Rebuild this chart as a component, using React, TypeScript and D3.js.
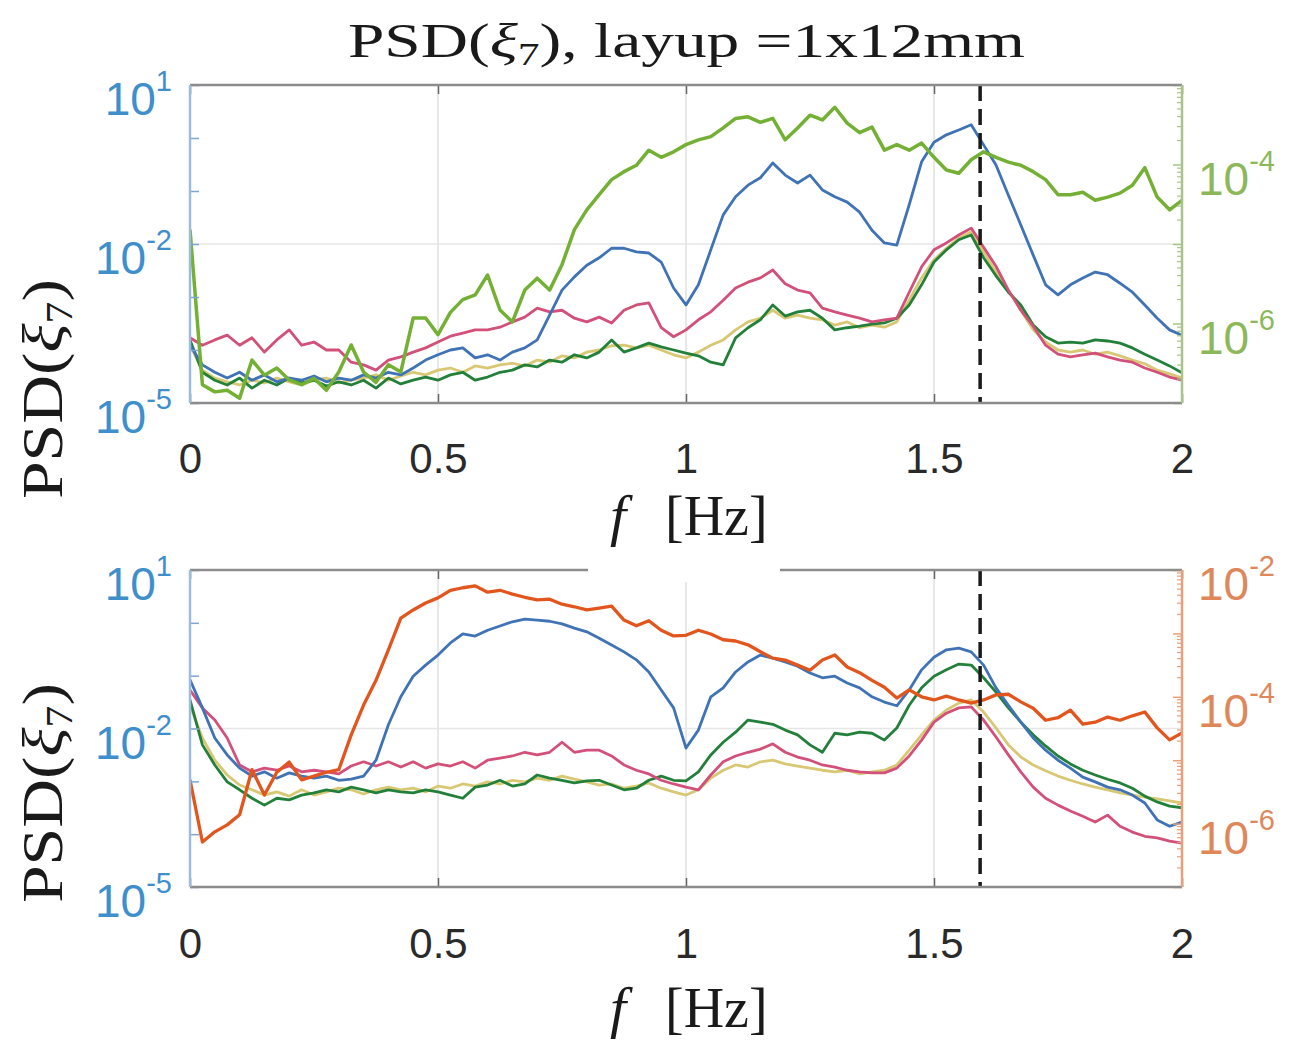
import { useEffect, useRef } from "react";
import * as d3 from "d3";

// frequency grid [Hz]
const freq = d3.range(81).map((i) => +(i * 0.025).toFixed(3));

const xTicks = [0, 0.5, 1, 1.5, 2];
const leftTickExps = [1, -2, -5];
const topRightTickExps = [-4, -6];
const bottomRightTickExps = [-2, -4, -6];
const markerFreq = 1.593;

// log10 of PSD (one value per freq step)
const topBlue = [
  -3.91, -4.28, -4.42, -4.53, -4.42, -4.57, -4.47, -4.6, -4.53, -4.57,
  -4.49, -4.6, -4.53, -4.57, -4.47, -4.53, -4.42, -4.47, -4.34, -4.19,
  -4.09, -4.0, -3.96, -4.15, -4.09, -4.19, -4.04, -3.96, -3.81, -3.34,
  -2.87, -2.62, -2.4, -2.26, -2.08, -2.08, -2.15, -2.17, -2.34, -2.83,
  -3.15, -2.77, -2.11, -1.45, -1.11, -0.89, -0.75, -0.47, -0.7, -0.85,
  -0.7, -0.98, -1.11, -1.21, -1.4, -1.74, -1.98, -2.02, -1.26, -0.45,
  -0.08, 0.06, 0.15, 0.25, -0.13, -0.51, -1.08, -1.64, -2.21, -2.77,
  -2.96, -2.77, -2.64, -2.53, -2.58, -2.74, -2.91, -3.15, -3.4, -3.62,
  -3.72,
];
const topPink = [
  -3.77, -3.91, -3.81, -3.72, -3.91, -3.77, -4.04, -3.81, -3.62, -3.91,
  -3.85, -4.0, -4.0, -4.23, -4.28, -4.38, -4.19, -4.13, -4.04, -3.96,
  -3.85, -3.74, -3.68, -3.62, -3.62, -3.57, -3.47, -3.38, -3.21, -3.28,
  -3.25, -3.4, -3.47, -3.38, -3.49, -3.25, -3.15, -3.11, -3.58, -3.75,
  -3.62, -3.43, -3.28, -3.06, -2.83, -2.72, -2.64, -2.49, -2.75, -2.87,
  -2.92, -3.21, -3.28, -3.34, -3.4, -3.47, -3.43, -3.4, -2.91, -2.43,
  -2.11, -1.98, -1.83, -1.7, -2.06, -2.42, -2.87, -3.25, -3.55, -3.91,
  -4.08, -4.13, -4.09, -4.06, -4.13, -4.19, -4.23, -4.34, -4.42, -4.51,
  -4.57,
];
const topDarkGreen = [
  -3.81, -4.42, -4.57, -4.66, -4.53, -4.72, -4.57, -4.66, -4.53, -4.62,
  -4.57, -4.68, -4.6, -4.66, -4.57, -4.72, -4.53, -4.64, -4.57, -4.51,
  -4.57, -4.47, -4.42, -4.57, -4.51, -4.42, -4.38, -4.28, -4.32, -4.19,
  -4.23, -4.09, -4.15, -4.04, -3.81, -4.04, -3.96, -3.87, -3.94, -4.0,
  -4.06, -4.11, -4.23, -4.28, -3.77, -3.58, -3.43, -3.15, -3.36, -3.28,
  -3.25, -3.4, -3.62, -3.58, -3.55, -3.51, -3.49, -3.4, -3.15, -2.77,
  -2.34, -2.11, -1.92, -1.83, -2.26, -2.6, -2.91, -3.15, -3.53, -3.75,
  -3.87, -3.85, -3.87, -3.81, -3.83, -3.87, -3.96, -4.08, -4.19, -4.3,
  -4.43,
];
const topYellow = [
  -3.91, -4.38, -4.53, -4.6, -4.66, -4.57, -4.62, -4.53, -4.6, -4.66,
  -4.57, -4.53, -4.62, -4.57, -4.53, -4.47, -4.57, -4.49, -4.42, -4.47,
  -4.38, -4.34, -4.42, -4.3, -4.34, -4.28, -4.25, -4.3, -4.19, -4.23,
  -4.11, -4.15, -4.04, -4.0, -3.92, -3.91, -3.96, -3.91, -4.0, -4.09,
  -4.15, -4.04, -3.91, -3.81, -3.62, -3.47, -3.4, -3.25, -3.4, -3.34,
  -3.4, -3.43, -3.53, -3.47, -3.58, -3.53, -3.57, -3.47, -3.06, -2.64,
  -2.3, -2.08, -1.89, -1.77, -2.15, -2.53, -2.87, -3.25, -3.62, -3.85,
  -4.0, -4.04, -4.0, -4.08, -4.04, -4.11, -4.19, -4.26, -4.38, -4.45,
  -4.53,
];
// right axis (top panel)
const topGreenRight = [
  -4.82, -6.77, -6.86, -6.84, -6.94, -6.46, -6.65, -6.56, -6.71, -6.77,
  -6.69, -6.84, -6.61, -6.27, -6.61, -6.74, -6.52, -6.61, -5.93, -5.93,
  -6.14, -5.86, -5.7, -5.64, -5.39, -5.83, -5.98, -5.58, -5.43, -5.58,
  -5.26, -4.82, -4.57, -4.38, -4.19, -4.09, -4.01, -3.82, -3.91, -3.84,
  -3.75, -3.69, -3.65, -3.54, -3.42, -3.4, -3.47, -3.42, -3.69, -3.54,
  -3.38, -3.44, -3.28, -3.48, -3.6, -3.53, -3.82, -3.75, -3.82, -3.73,
  -3.91, -4.07, -4.11, -3.94, -3.84, -3.91, -3.97, -4.01, -4.09, -4.19,
  -4.38, -4.38, -4.35, -4.45, -4.41, -4.36, -4.26, -4.04, -4.41, -4.57,
  -4.45,
];

const bottomBlue = [
  -1.08, -1.61, -2.18, -2.5, -2.75, -2.9, -2.82, -2.94, -2.84, -2.9,
  -2.94, -2.9, -2.98, -2.96, -2.9, -2.6, -1.93, -1.4, -1.01, -0.8,
  -0.61, -0.38, -0.21, -0.25, -0.14, -0.06, 0.02, 0.07, 0.05, 0.03,
  -0.02, -0.1, -0.17, -0.29, -0.42, -0.55, -0.7, -0.93, -1.27, -1.61,
  -2.37, -2.03, -1.4, -1.23, -0.93, -0.74, -0.61, -0.67, -0.74, -0.82,
  -0.95, -1.04, -1.01, -1.14, -1.23, -1.4, -1.5, -1.57, -1.27, -0.89,
  -0.65, -0.51, -0.48, -0.55, -0.8, -1.23, -1.56, -1.88, -2.18, -2.41,
  -2.6, -2.75, -2.92, -3.01, -3.11, -3.16, -3.26, -3.41, -3.73, -3.85,
  -3.77,
];
const bottomPink = [
  -1.27, -1.61, -1.84, -2.18, -2.69, -2.82, -2.75, -2.79, -2.71, -2.82,
  -2.79, -2.82, -2.86, -2.71, -2.63, -2.71, -2.63, -2.73, -2.63, -2.75,
  -2.67, -2.71, -2.63, -2.75, -2.6, -2.56, -2.52, -2.45, -2.5, -2.45,
  -2.26, -2.45, -2.41, -2.41, -2.52, -2.69, -2.79, -2.86, -2.98, -3.05,
  -3.11, -3.16, -2.88, -2.63, -2.52, -2.45, -2.39, -2.29, -2.45, -2.54,
  -2.6, -2.69, -2.73, -2.79, -2.82, -2.84, -2.84, -2.75, -2.52, -2.22,
  -1.88, -1.71, -1.61, -1.59, -1.84, -2.16, -2.5, -2.82, -3.11, -3.32,
  -3.45, -3.56, -3.66, -3.77, -3.64, -3.85, -3.96, -4.04, -4.07, -4.13,
  -4.17,
];
const bottomDarkGreen = [
  -1.46, -2.31, -2.69, -3.01, -3.16, -3.32, -3.45, -3.32, -3.35, -3.26,
  -3.22, -3.16, -3.2, -3.11, -3.16, -3.22, -3.16, -3.2, -3.22, -3.16,
  -3.2, -3.26, -3.32, -3.11, -3.07, -2.98, -3.09, -3.05, -2.88, -2.94,
  -2.98, -3.03, -2.99, -2.98, -3.07, -3.16, -3.13, -2.98, -2.9, -2.98,
  -2.99, -2.82, -2.5, -2.26, -2.07, -1.84, -1.88, -1.92, -2.03, -2.12,
  -2.31, -2.45, -2.09, -2.12, -2.07, -2.09, -2.22, -1.99, -1.56, -1.23,
  -1.01, -0.89, -0.78, -0.8, -1.04, -1.31, -1.61, -1.88, -2.12, -2.33,
  -2.52, -2.67, -2.79, -2.88, -2.96, -3.03, -3.13, -3.28, -3.39, -3.47,
  -3.5,
];
const bottomYellow = [
  -1.56, -2.18, -2.6, -2.88, -3.07, -3.16, -3.26, -3.2, -3.28, -3.16,
  -3.26, -3.2, -3.13, -3.16, -3.24, -3.16, -3.11, -3.16, -3.13, -3.2,
  -3.09, -3.13, -3.05, -3.09, -3.01, -3.05, -2.98, -3.01, -2.94, -2.98,
  -2.9, -2.96, -3.01, -3.07, -3.05, -3.13, -3.09, -3.03, -3.13, -3.2,
  -3.26, -3.16, -2.94, -2.79, -2.69, -2.73, -2.63, -2.6, -2.67, -2.71,
  -2.75, -2.79, -2.82, -2.79, -2.86, -2.82, -2.79, -2.69, -2.41, -2.12,
  -1.84, -1.65, -1.52, -1.46, -1.69, -1.99, -2.31, -2.54, -2.69, -2.8,
  -2.9, -2.98, -3.05, -3.11, -3.16, -3.22, -3.26, -3.3, -3.33, -3.37,
  -3.41,
];
// right axis (bottom panel)
const bottomOrangeRight = [
  -5.31, -6.29, -6.13, -6.02, -5.86, -5.15, -5.55, -5.19, -5.03, -5.31,
  -5.25, -5.19, -5.15, -4.6, -4.13, -3.74, -3.26, -2.76, -2.63, -2.52,
  -2.44, -2.32, -2.28, -2.25, -2.35, -2.32, -2.38, -2.43, -2.47, -2.46,
  -2.54, -2.58, -2.63, -2.6, -2.57, -2.79, -2.88, -2.8, -2.95, -3.04,
  -3.03, -2.95, -3.01, -3.1, -3.12, -3.18, -3.29, -3.39, -3.42, -3.5,
  -3.58, -3.42, -3.34, -3.53, -3.62, -3.74, -3.85, -4.02, -3.89, -4.0,
  -4.05, -3.99, -4.05, -4.1, -4.05, -3.97, -3.96, -4.08, -4.18, -4.37,
  -4.33, -4.21, -4.43, -4.4, -4.32, -4.37, -4.3, -4.24, -4.49, -4.68,
  -4.57,
];

const sans = "'Liberation Sans', Arial, Helvetica, sans-serif";
const serif = "'Liberation Serif', 'Times New Roman', serif";

const X0 = 190;
const X1 = 1182;

const panels = [
  {
    top: 85,
    bottom: 403,
    rightDomain: [1e-7, 1e-3],
    rightTicks: topRightTickExps,
    rightAxisColor: "#a9c48a",
    rightLabelColor: "#8db85a",
    tickLabelY: 473,
    xLabelY: 535,
    yLabelCy: 389,
    series: [
      { values: topYellow, color: "#d8c874", width: 2.8, right: false },
      { values: topDarkGreen, color: "#23803a", width: 2.8, right: false },
      { values: topPink, color: "#d2507a", width: 2.8, right: false },
      { values: topBlue, color: "#3f73b6", width: 2.8, right: false },
      { values: topGreenRight, color: "#74b034", width: 3.5, right: true },
    ],
  },
  {
    top: 570,
    bottom: 887,
    rightDomain: [1e-7, 1e-2],
    rightTicks: bottomRightTickExps,
    rightAxisColor: "#e8a07c",
    rightLabelColor: "#e0875a",
    tickLabelY: 958,
    xLabelY: 1027,
    yLabelCy: 793,
    series: [
      { values: bottomYellow, color: "#d8c874", width: 2.8, right: false },
      { values: bottomDarkGreen, color: "#23803a", width: 2.8, right: false },
      { values: bottomPink, color: "#d2507a", width: 2.8, right: false },
      { values: bottomBlue, color: "#3f73b6", width: 2.8, right: false },
      { values: bottomOrangeRight, color: "#e2561e", width: 3.3, right: true },
    ],
  },
];

function expLabel(g: any, x: number, y: number, exp: number, anchor: string, color: string) {
  const t = g
    .append("text")
    .attr("x", x)
    .attr("y", y)
    .attr("text-anchor", anchor)
    .attr("fill", color)
    .attr("font-family", sans)
    .attr("font-size", 46);
  t.append("tspan").text("10");
  t.append("tspan").attr("font-size", 29).attr("dy", -24).text(String(exp));
}

const App = () => {
  const ref = useRef<SVGSVGElement>(null);

  useEffect(() => {
    const svg = d3.select(ref.current);
    svg.selectAll("*").remove();

    const x = d3.scaleLinear().domain([0, 2]).range([X0, X1]);

    panels.forEach((p, k) => {
      const yL = d3.scaleLog().domain([1e-5, 1e1]).range([p.bottom, p.top]);
      const yR = d3.scaleLog().domain(p.rightDomain).range([p.bottom, p.top]);
      const g = svg.append("g");

      g.append("clipPath")
        .attr("id", `clip${k}`)
        .append("rect")
        .attr("x", X0)
        .attr("y", p.top)
        .attr("width", X1 - X0)
        .attr("height", p.bottom - p.top);

      // grid
      g.selectAll(".vgrid")
        .data([0.5, 1, 1.5])
        .join("line")
        .attr("x1", (d) => x(d))
        .attr("x2", (d) => x(d))
        .attr("y1", p.top)
        .attr("y2", p.bottom)
        .attr("stroke", "#dcdcdc")
        .attr("stroke-width", 1.3);
      g.selectAll(".hgrid")
        .data([1e-2])
        .join("line")
        .attr("x1", X0)
        .attr("x2", X1)
        .attr("y1", (d) => yL(d))
        .attr("y2", (d) => yL(d))
        .attr("stroke", "#e6e6e6")
        .attr("stroke-width", 1.3);

      // series
      const plot = g.append("g").attr("clip-path", `url(#clip${k})`);
      p.series.forEach((s) => {
        const ys = s.right ? yR : yL;
        const line = d3
          .line<number>()
          .x((_, i) => x(freq[i]))
          .y((d) => ys(Math.pow(10, d)));
        plot
          .append("path")
          .datum(s.values)
          .attr("fill", "none")
          .attr("stroke", s.color)
          .attr("stroke-width", s.width)
          .attr("stroke-linejoin", "round")
          .attr("d", line);
      });

      // marker line
      g.append("line")
        .attr("x1", x(markerFreq))
        .attr("x2", x(markerFreq))
        .attr("y1", p.top)
        .attr("y2", p.bottom)
        .attr("stroke", "#1a1a1a")
        .attr("stroke-width", 3.5)
        .attr("stroke-dasharray", "16 8");

      // x axes
      const xb = g
        .append("g")
        .attr("transform", `translate(0,${p.bottom})`)
        .call(
          d3
            .axisBottom(x)
            .tickValues(xTicks)
            .tickFormat(d3.format(""))
            .tickSizeInner(-9)
            .tickSizeOuter(0)
            .tickPadding(p.tickLabelY - p.bottom - 30)
        );
      xb.select(".domain").remove();
      xb.selectAll("line").attr("stroke", "#666").attr("stroke-width", 1.5);
      xb.selectAll("text")
        .attr("font-size", 42)
        .attr("font-family", sans)
        .attr("fill", "#2a2a2a");

      const xt = g
        .append("g")
        .attr("transform", `translate(0,${p.top})`)
        .call(d3.axisTop(x).tickValues(xTicks).tickFormat(() => "").tickSizeInner(-9).tickSizeOuter(0));
      xt.select(".domain").remove();
      xt.selectAll("line").attr("stroke", "#666").attr("stroke-width", 1.5);

      // y axes ticks
      const yl = g
        .append("g")
        .attr("transform", `translate(${X0},0)`)
        .call(
          d3
            .axisLeft(yL)
            .tickValues(d3.range(-5, 2).map((e) => Math.pow(10, e)))
            .tickFormat(() => "")
            .tickSizeInner(-9)
            .tickSizeOuter(0)
        );
      yl.select(".domain").remove();
      yl.selectAll("line").attr("stroke", "#7ea6d2").attr("stroke-width", 1.5);

      const rExp = d3.range(Math.round(Math.log10(p.rightDomain[0])), Math.round(Math.log10(p.rightDomain[1])) + 1);
      const minor: number[] = [];
      rExp.forEach((e) => d3.range(2, 10).forEach((m) => minor.push(m * Math.pow(10, e))));
      const yr = g
        .append("g")
        .attr("transform", `translate(${X1},0)`)
        .call(
          d3
            .axisRight(yR)
            .tickValues(rExp.map((e) => Math.pow(10, e)))
            .tickFormat(() => "")
            .tickSizeInner(-9)
            .tickSizeOuter(0)
        );
      yr.select(".domain").remove();
      yr.selectAll("line").attr("stroke", p.rightAxisColor).attr("stroke-width", 1.5);
      g.selectAll(".minor")
        .data(minor.filter((v) => v >= p.rightDomain[0] && v <= p.rightDomain[1]))
        .join("line")
        .attr("x1", X1 - 5)
        .attr("x2", X1)
        .attr("y1", (d) => yR(d))
        .attr("y2", (d) => yR(d))
        .attr("stroke", p.rightAxisColor)
        .attr("stroke-width", 1.2);

      // box
      g.append("line").attr("x1", X0).attr("x2", X1).attr("y1", p.top).attr("y2", p.top).attr("stroke", "#8c8c8c").attr("stroke-width", 2.5);
      g.append("line").attr("x1", X0).attr("x2", X1).attr("y1", p.bottom).attr("y2", p.bottom).attr("stroke", "#8c8c8c").attr("stroke-width", 2.5);
      g.append("line").attr("x1", X0).attr("x2", X0).attr("y1", p.top).attr("y2", p.bottom).attr("stroke", "#9dbbdc").attr("stroke-width", 2.5);
      g.append("line").attr("x1", X1).attr("x2", X1).attr("y1", p.top).attr("y2", p.bottom).attr("stroke", p.rightAxisColor).attr("stroke-width", 2.5);

      // y tick labels
      leftTickExps.forEach((e) => expLabel(g, 172, yL(Math.pow(10, e)) + 30, e, "end", "#3f8fcc"));
      p.rightTicks.forEach((e) => expLabel(g, 1198, yR(Math.pow(10, e)) + 30, e, "start", p.rightLabelColor));

      // x label
      g.append("text")
        .attr("x", 610)
        .attr("y", p.xLabelY)
        .attr("font-family", serif)
        .attr("font-style", "italic")
        .attr("font-size", 58)
        .attr("fill", "#1a1a1a")
        .text("f");
      g.append("text")
        .attr("x", 665)
        .attr("y", p.xLabelY)
        .attr("font-family", serif)
        .attr("font-size", 56)
        .attr("fill", "#1a1a1a")
        .text("[Hz]");

      // y label
      const yt = g
        .append("text")
        .attr("transform", `translate(62,${p.yLabelCy}) rotate(-90)`)
        .attr("text-anchor", "middle")
        .attr("font-family", serif)
        .attr("font-size", 58)
        .attr("fill", "#1a1a1a")
        .attr("textLength", 220)
        .attr("lengthAdjust", "spacingAndGlyphs");
      yt.append("tspan").text("PSD(");
      yt.append("tspan").attr("font-style", "italic").text("ξ");
      yt.append("tspan").attr("font-size", 38).attr("dy", 10).text("7");
      yt.append("tspan").attr("dy", -10).text(")");
    });

    // title
    const title = svg
      .append("text")
      .attr("x", 348)
      .attr("y", 57)
      .attr("font-family", serif)
      .attr("font-size", 48)
      .attr("fill", "#1a1a1a")
      .attr("textLength", 677)
      .attr("lengthAdjust", "spacingAndGlyphs");
    title.append("tspan").text("PSD(");
    title.append("tspan").attr("font-style", "italic").text("ξ");
    title.append("tspan").attr("font-size", 32).attr("dy", 8).text("7");
    title.append("tspan").attr("dy", -8).text("), layup =1x12mm");

    // white patch over the lower box edge, as in the source figure
    svg.append("rect").attr("x", 588).attr("y", 558).attr("width", 192).attr("height", 24).attr("fill", "#fff");
  }, []);

  return (
    <svg
      ref={ref}
      width={1304}
      height={1040}
      style={{ position: "absolute", left: 0, top: 0, background: "#fff" }}
    />
  );
};

export default App;
